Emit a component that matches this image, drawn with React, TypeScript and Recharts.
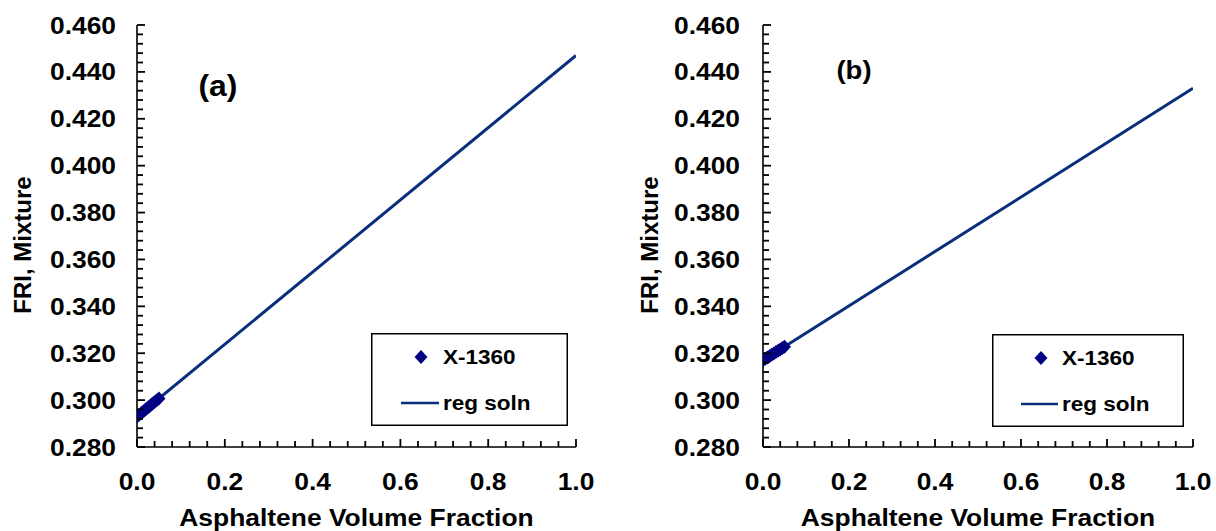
import React from 'react';
import { ScatterChart, Scatter, XAxis, YAxis, Legend } from 'recharts';

// ---------- data ----------
const xMajorTicks = [0, 0.2, 0.4, 0.6, 0.8, 1.0];
const xTickLabels = ['0.0', '0.2', '0.4', '0.6', '0.8', '1.0'];
const yMajorTicks = [0.28, 0.3, 0.32, 0.34, 0.36, 0.38, 0.4, 0.42, 0.44, 0.46];
const yTickLabels = ['0.280', '0.300', '0.320', '0.340', '0.360', '0.380', '0.400', '0.420', '0.440', '0.460'];

const seriesName = 'X-1360';
const lineName = 'reg soln';

const ptsAX = [0, 0.005, 0.01, 0.015, 0.02, 0.025, 0.03, 0.035, 0.04, 0.045, 0.05];
const ptsAY = [0.293, 0.2938, 0.2945, 0.2953, 0.2961, 0.2969, 0.2976, 0.2984, 0.2992, 0.2999, 0.3007];
const lineAX = [0, 1];
const lineAY = [0.293, 0.447];

const ptsBX = [0, 0.005, 0.01, 0.015, 0.02, 0.025, 0.03, 0.035, 0.04, 0.045, 0.05];
const ptsBY = [0.317, 0.3176, 0.3182, 0.3187, 0.3193, 0.3199, 0.3205, 0.3211, 0.3216, 0.3222, 0.3228];
const lineBX = [0, 1];
const lineBY = [0.317, 0.433];

// ---------- helpers ----------
const FONT = '"Liberation Sans", Arial, Helvetica, sans-serif';
const MARKER = '#000080';
const LINE = '#0a2f7a';

const subdivide = (majors: number[], n: number) => {
  const out: number[] = [];
  for (let i = 0; i < majors.length - 1; i++) {
    for (let k = 0; k < n; k++) {
      out.push(+(majors[i] + ((majors[i + 1] - majors[i]) * k) / n).toFixed(4));
    }
  }
  out.push(majors[majors.length - 1]);
  return out;
};
const xAllTicks = subdivide(xMajorTicks, 5);
const yAllTicks = subdivide(yMajorTicks, 5);
const majorIndex = (arr: number[], v: number) => arr.findIndex((m) => Math.abs(m - v) < 1e-6);

const zip = (xs: number[], ys: number[]) => xs.map((x, i) => ({ x, y: ys[i] }));

const Diamond = (p: any) => {
  const { cx, cy } = p;
  if (cx == null || cy == null) return <g />;
  return (
    <path
      d={`M${cx},${cy - 7} L${cx + 6.5},${cy} L${cx},${cy + 7} L${cx - 6.5},${cy} Z`}
      fill={MARKER}
    />
  );
};

const XTick = (props: any) => {
  const { x, y, payload } = props;
  const idx = majorIndex(xMajorTicks, payload.value);
  const major = idx >= 0;
  return (
    <g>
      <rect x={x - 0.9} y={y - (major ? 8 : 6)} width={1.8} height={major ? 8 : 6} fill="#000" />
      {major && (
        <text
          transform={`translate(${x},${y + 34}) scale(1.1,1)`}
          textAnchor="middle"
          dominantBaseline="central"
          fontFamily={FONT}
          fontWeight={700}
          fontSize={24}
          fill="#000"
        >
          {xTickLabels[idx]}
        </text>
      )}
    </g>
  );
};

const makeYTick = (gap: number) => (props: any) => {
  const { x, y, payload } = props;
  const idx = majorIndex(yMajorTicks, payload.value);
  const major = idx >= 0;
  return (
    <g>
      <rect x={x} y={y - 0.9} width={major ? 8 : 6} height={1.8} fill="#000" />
      {major && (
        <text
          transform={`translate(${x - gap},${y}) scale(1.1,1)`}
          textAnchor="end"
          dominantBaseline="central"
          fontFamily={FONT}
          fontWeight={700}
          fontSize={24}
          fill="#000"
        >
          {yTickLabels[idx]}
        </text>
      )}
    </g>
  );
};

type PanelProps = {
  pts: { x: number; y: number }[];
  line: { x: number; y: number }[];
  left: number;
  width: number;
  yAxisWidth: number;
  rightMargin: number;
  tickGap: number;
  yLabelX: number;
  tag: string;
  tagX: number;
  tagY: number;
  tagSize: number;
  legend: { left: number; top: number; w: number; h: number; mx: number; tx: number; lx1: number; lx2: number };
};

const Panel = (p: PanelProps) => {
  const L = p.legend;
  const legendContent = () => (
    <svg width={L.w} height={L.h} style={{ display: 'block' }}>
      <rect x={0.75} y={0.75} width={L.w - 1.5} height={L.h - 1.5} fill="#fff" stroke="#000" strokeWidth={1.5} />
      <path d={`M${L.mx},${24 - 7} L${L.mx + 6.5},24 L${L.mx},${24 + 7} L${L.mx - 6.5},24 Z`} fill={MARKER} />
      <text
        transform={`translate(${L.tx},24) scale(1.1,1)`}
        dominantBaseline="central"
        fontFamily={FONT}
        fontWeight={700}
        fontSize={20.5}
        fill="#000"
      >
        {seriesName}
      </text>
      <line x1={L.lx1} x2={L.lx2} y1={70} y2={70} stroke={LINE} strokeWidth={2.5} />
      <text
        transform={`translate(${L.tx},70) scale(1.1,1)`}
        dominantBaseline="central"
        fontFamily={FONT}
        fontWeight={700}
        fontSize={20.5}
        fill="#000"
      >
        {lineName}
      </text>
    </svg>
  );

  return (
    <div style={{ position: 'absolute', left: p.left, top: 0, width: p.width, height: 531 }}>
      <ScatterChart
        width={p.width}
        height={531}
        margin={{ top: 25, right: p.rightMargin, bottom: 0, left: 0 }}
      >
        <XAxis
          xAxisId="top"
          orientation="top"
          type="number"
          dataKey="x"
          domain={[0, 1]}
          height={0}
          tick={false}
          tickLine={false}
          axisLine={{ stroke: '#000', strokeWidth: 1.5 }}
        />
        <YAxis
          yAxisId="right"
          orientation="right"
          type="number"
          dataKey="y"
          domain={[0.28, 0.46]}
          width={0}
          tick={false}
          tickLine={false}
          axisLine={{ stroke: '#000', strokeWidth: 1.5 }}
        />
        <XAxis
          type="number"
          dataKey="x"
          domain={[0, 1]}
          ticks={xAllTicks}
          interval={0}
          tickSize={0}
          tickMargin={0}
          tickLine={false}
          tick={XTick}
          axisLine={{ stroke: '#000', strokeWidth: 1.6 }}
          height={84}
          allowDataOverflow
          label={{
            content: (lp: any) => {
              const vb = lp.viewBox || {};
              return (
                <text
                  transform={`translate(${vb.x + vb.width / 2},${vb.y + 70}) scale(1.1,1)`}
                  textAnchor="middle"
                  dominantBaseline="central"
                  fontFamily={FONT}
                  fontWeight={700}
                  fontSize={24}
                  fill="#000"
                >
                  Asphaltene Volume Fraction
                </text>
              );
            },
          }}
        />
        <YAxis
          type="number"
          dataKey="y"
          domain={[0.28, 0.46]}
          ticks={yAllTicks}
          interval={0}
          tickSize={0}
          tickMargin={0}
          tickLine={false}
          tick={makeYTick(p.tickGap)}
          axisLine={{ stroke: '#000', strokeWidth: 1.6 }}
          width={p.yAxisWidth}
          allowDataOverflow
          label={{
            content: (lp: any) => {
              const vb = lp.viewBox || {};
              return (
                <text
                  transform={`translate(${vb.x + p.yLabelX},${vb.y + vb.height / 2 + 9}) rotate(-90)`}
                  textAnchor="middle"
                  dominantBaseline="central"
                  fontFamily={FONT}
                  fontWeight={700}
                  fontSize={24}
                  fill="#000"
                >
                  FRI, Mixture
                </text>
              );
            },
          }}
        />
        <Scatter
          name={lineName}
          data={p.line}
          line={{ stroke: LINE, strokeWidth: 3 }}
          lineJointType="linear"
          shape={() => <g />}
          isAnimationActive={false}
        />
        <Scatter name={seriesName} data={p.pts} shape={Diamond} isAnimationActive={false} />
        <Legend
          layout="vertical"
          align="center"
          verticalAlign="middle"
          content={legendContent}
          wrapperStyle={{ position: 'absolute', left: L.left, top: L.top, width: L.w, height: L.h, margin: 0 }}
        />
      </ScatterChart>
      <div
        style={{
          position: 'absolute',
          left: p.tagX - 50,
          top: p.tagY - 20,
          width: 100,
          height: 40,
          lineHeight: '40px',
          textAlign: 'center',
          fontFamily: FONT,
          fontWeight: 700,
          fontSize: p.tagSize,
          transform: 'scaleX(1.1)',
          color: '#000',
        }}
      >
        {p.tag}
      </div>
    </div>
  );
};

export default function App() {
  return (
    <div style={{ position: 'absolute', left: 0, top: 0, width: 1216, height: 531, background: '#fff' }}>
      <Panel
        pts={zip(ptsAX, ptsAY)}
        line={zip(lineAX, lineAY)}
        left={0}
        width={608}
        yAxisWidth={137}
        rightMargin={32}
        tickGap={21}
        yLabelX={22}
        tag="(a)"
        tagX={218}
        tagY={86}
        tagSize={29}
        legend={{ left: 371, top: 333, w: 197, h: 93, mx: 50, tx: 72, lx1: 30, lx2: 68 }}
      />
      <Panel
        pts={zip(ptsBX, ptsBY)}
        line={zip(lineBX, lineBY)}
        left={608}
        width={608}
        yAxisWidth={155}
        rightMargin={23}
        tickGap={23}
        yLabelX={41}
        tag="(b)"
        tagX={246}
        tagY={70}
        tagSize={25}
        legend={{ left: 384, top: 334, w: 192, h: 93, mx: 49, tx: 70, lx1: 29, lx2: 66 }}
      />
    </div>
  );
}
